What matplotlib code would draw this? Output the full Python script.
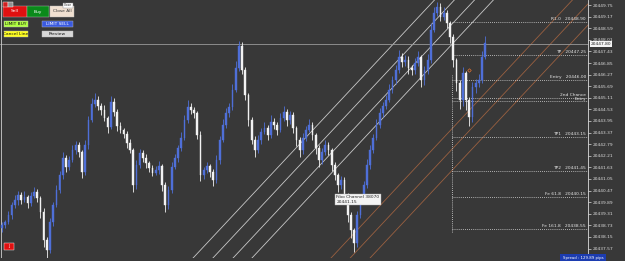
import matplotlib
matplotlib.use("Agg")
import matplotlib.pyplot as plt
from matplotlib.patches import Rectangle
import numpy as np

# ---------------- data ----------------
closes = [
 20438.75, 20438.90, 20439.25, 20439.75, 20440.00, 20440.25, 20440.00, 20440.15, 20439.85, 20440.20,
 20440.40, 20440.10, 20439.40, 20438.00, 20437.50, 20438.90, 20439.75, 20440.50, 20441.25, 20442.10,
 20441.65, 20442.00, 20442.50, 20442.75, 20442.40, 20441.40, 20442.75, 20444.00, 20444.80, 20445.00,
 20444.70, 20444.50, 20444.10, 20443.65, 20444.90, 20444.40, 20443.70, 20443.50, 20443.30, 20442.85,
 20442.50, 20440.75, 20441.75, 20442.35, 20442.10, 20441.85, 20441.60, 20441.35, 20441.50, 20441.70,
 20440.75, 20439.75, 20440.50, 20441.65, 20442.10, 20442.60, 20443.10, 20444.00, 20444.65, 20444.50,
 20444.35, 20443.25, 20441.25, 20441.50, 20441.70, 20441.40, 20441.00, 20442.00, 20443.00, 20443.75,
 20444.35, 20444.65, 20445.50, 20446.60, 20447.70, 20446.50, 20445.25, 20444.00, 20443.00, 20442.50,
 20443.00, 20443.40, 20443.60, 20443.25, 20443.90, 20443.75, 20443.50, 20444.10, 20444.40, 20444.00,
 20444.25, 20443.60, 20443.00, 20442.50, 20443.10, 20443.50, 20443.75, 20443.25, 20442.60, 20442.00,
 20442.40, 20442.75, 20442.50, 20441.75, 20441.25, 20440.75, 20441.00, 20440.25, 20439.25, 20438.50,
 20437.85, 20439.25, 20440.00, 20440.75, 20441.75, 20442.50, 20443.10, 20443.75, 20444.35, 20444.70,
 20445.00, 20445.50, 20446.00, 20446.50, 20447.15, 20446.90, 20447.00, 20446.60, 20446.50, 20446.85,
 20447.15, 20446.00, 20446.50, 20447.00, 20448.50, 20449.35, 20449.65, 20449.15, 20449.35, 20448.85,
 20448.15, 20447.00, 20445.85, 20445.00, 20446.35, 20445.00, 20444.15, 20445.65, 20445.85, 20446.00,
 20447.15, 20447.85,
]
first_open = 20438.60
upper_wick = [
 .15,.10,.20,.15,.25,.20,.15,.30,.10,.20, .25,.15,.10,.20,.15,.20,.15,.25,.20,.30,
 .15,.20,.25,.20,.15,.10,.25,.20,.30,.35, .20,.15,.25,.10,.30,.20,.15,.20,.10,.15,
 .20,.10,.25,.20,.15,.20,.10,.15,.20,.25, .10,.15,.20,.25,.20,.15,.30,.25,.35,.20,
 .15,.10,.20,.15,.20,.10,.15,.25,.20,.30, .25,.20,.30,.35,.25,.20,.15,.10,.15,.20,
 .25,.20,.30,.15,.35,.20,.15,.25,.30,.15, .20,.15,.10,.15,.25,.20,.30,.15,.10,.15,
 .20,.25,.15,.10,.15,.10,.20,.15,.10,.15, .10,.20,.25,.20,.30,.25,.20,.30,.25,.20,
 .25,.30,.20,.25,.35,.20,.25,.20,.15,.25, .30,.10,.20,.30,.35,.30,.25,.20,.30,.15,
 .10,.15,.10,.15,.30,.10,.15,.25,.20,.30, .30,.35,
]
lower_wick = [
 .20,.15,.10,.20,.15,.25,.20,.10,.25,.15, .10,.20,.30,.35,.40,.15,.20,.10,.15,.20,
 .25,.15,.10,.20,.25,.30,.15,.20,.10,.15, .20,.25,.15,.30,.10,.20,.25,.15,.20,.25,
 .15,.35,.20,.15,.20,.25,.20,.15,.10,.20, .30,.35,.20,.15,.10,.20,.15,.10,.15,.20,
 .25,.20,.30,.20,.15,.25,.30,.15,.20,.10, .15,.20,.15,.10,.15,.20,.25,.30,.20,.35,
 .15,.20,.10,.25,.15,.20,.25,.10,.15,.30, .20,.25,.30,.35,.20,.15,.10,.25,.30,.35,
 .20,.15,.25,.30,.25,.35,.20,.30,.35,.40, .45,.20,.15,.20,.15,.20,.15,.10,.15,.20,
 .15,.10,.15,.20,.15,.25,.20,.30,.25,.20, .15,.35,.25,.20,.15,.10,.15,.20,.15,.25,
 .30,.35,.40,.45,.30,.50,.45,.25,.30,.20, .15,.10,
]

# price levels of the trade tool (right side)
level_names = ["R1.0", "TP", "Entry", "2nd Chance", "Entry", "TP1", "TP2", "Fe 61.8", "Fe 161.8"]
level_prices = [20448.90, 20447.25, 20446.00, 20445.10, 20444.95, 20443.15, 20441.45, 20440.15, 20438.55]
current_price = 20447.80

# fibo channel lines: candle index where each line crosses the base price, and slope per candle
white_chan_idx = [59.7, 65.9, 72.2, 78.1]
brown_chan_idx = [102.8, 108.8, 115.0]
chan_base_price = 20437.10
chan_slope = 0.171

tick_top = 20449.75
tick_step = 0.58
n_ticks = 22

# ---------------- figure ----------------
W, H = 625, 261
BG = "#383838"
fig = plt.figure(figsize=(W / 100, H / 100), dpi=100, facecolor=BG)
ax = fig.add_axes([0, 3 / H, 588 / W, 258 / H], facecolor=BG)

n = len(closes)
idx = np.arange(n)
closes_a = np.array(closes)
opens = np.concatenate([[first_open], closes_a[:-1]])
highs = np.maximum(opens, closes_a) + np.array(upper_wick)
lows = np.minimum(opens, closes_a) - np.array(lower_wick)

ymin, ymax = 20437.10, 20450.00
x_left, x_right = -0.625, 183.1
ax.set_xlim(x_left, x_right)
ax.set_ylim(ymin, ymax)

up = closes_a >= opens
col_up = "#4f6fd8"
col_dn = "#f2f2f2"
colors = np.where(up, col_up, col_dn)

# channel lines
for c in white_chan_idx:
    xs = np.array([c, c + (ymax - chan_base_price) / chan_slope])
    ax.plot(xs, chan_base_price + (xs - c) * chan_slope, color="#c9c9c9", lw=0.6, zorder=1)
for c in brown_chan_idx:
    xs = np.array([c, c + (ymax - chan_base_price) / chan_slope])
    ax.plot(xs, chan_base_price + (xs - c) * chan_slope, color="#9a6040", lw=0.6, zorder=1)

# current price line
ax.axhline(current_price, color="#9a9a9a", lw=0.6, zorder=1)

# candles
ax.vlines(idx, lows, highs, colors=colors, lw=0.6, zorder=3)
body_h = np.maximum(np.abs(closes_a - opens), 0.03)
ax.bar(idx, body_h, bottom=np.minimum(opens, closes_a), width=0.55,
       color=colors, edgecolor=colors, linewidth=0.3, zorder=4)

# level lines + labels
lvl_x0 = 140.6
ax.vlines(lvl_x0, 20438.40, 20446.25, colors="#dddddd", linestyles=(0, (1, 1.5)), lw=0.6, zorder=2)
for name, p in zip(level_names, level_prices):
    ax.hlines(p, lvl_x0, x_right, colors="#d8d8d8", linestyles=(0, (1, 1.5)), lw=0.6, zorder=2)
for name, p in zip(level_names, level_prices):
    if name == "2nd Chance":
        ax.text(182.5, p + 0.03, name, color="#e6e6e6", fontsize=3.2, ha="right", va="bottom", zorder=5)
    elif name == "Entry" and p < 20445.0:
        ax.text(182.5, p + 0.02, name, color="#e6e6e6", fontsize=3.2, ha="right", va="bottom", zorder=5)
    else:
        ax.text(182.5, p + 0.03, f"{name}   {p:.2f}", color="#e6e6e6", fontsize=3.2,
                ha="right", va="bottom", zorder=5)

# fibo channel tag
ax.text(104.5, 20440.25, "Fibo Channel 38070\n20441.15", fontsize=3.2, color="#222222",
        ha="left", va="top", linespacing=1.2, zorder=6,
        bbox=dict(boxstyle="square,pad=0.25", fc="#f4f4f4", ec="#aaaaaa", lw=0.3))

# small markers
ax.plot([146], [20446.50], marker="D", ms=1.8, mfc="none", mec="#e07030", mew=0.5, zorder=6)

# axes style
for s in ["top", "bottom", "left"]:
    ax.spines[s].set_visible(False)
ax.spines["right"].set_color("#dcdcdc")
ax.spines["right"].set_linewidth(0.6)
ax.axvline(x_left + 0.35, color="#cfcfcf", lw=0.6)
ax.set_xticks([])
ax.yaxis.tick_right()
ticks = [tick_top - k * tick_step for k in range(n_ticks)]
ax.set_yticks(ticks)
ax.set_yticklabels([f"{t:.2f}" for t in ticks])
ax.tick_params(axis="y", colors="#dcdcdc", labelsize=3.2, length=2, width=0.5, pad=1.5)

# current price tag on axis
ax.text(1.005, (current_price - ymin) / (ymax - ymin), f"{current_price:.2f}",
        transform=ax.transAxes, fontsize=3.2, color="#222222", ha="left", va="center",
        zorder=7, clip_on=False,
        bbox=dict(boxstyle="square,pad=0.2", fc="#f4f4f4", ec="none"))

# ---------------- overlay UI (pixel coords) ----------------
ov = fig.add_axes([0, 0, 1, 1], facecolor="none")
ov.set_xlim(0, W)
ov.set_ylim(H, 0)
ov.axis("off")

def button(x0, y0, x1, y1, fc, label, tc="#111111"):
    ov.add_patch(Rectangle((x0, y0), x1 - x0, y1 - y0, fc=fc, ec="#bbbbbb", lw=0.3))
    ov.text((x0 + x1) / 2, (y0 + y1) / 2, label, fontsize=3.2, color=tc, ha="center", va="center")

button(3, 6, 27, 17, "#e01010", "Sell", "#ffffff")
button(27, 6, 49, 17, "#0a8a1a", "Buy", "#ffffff")
button(50, 6, 74, 17, "#f0e0d0", "Close All", "#333333")
ov.add_patch(Rectangle((63, 3), 10, 5, fc="#ffffff", ec="#888888", lw=0.3))
ov.text(68, 5.5, "Close", fontsize=2.2, color="#222222", ha="center", va="center")
button(4, 21, 28, 27, "#b0ff40", "LIMIT BUY")
button(42, 21, 73, 27, "#3a5ae0", "LIMIT SELL", "#ffffff")
button(4, 31, 28, 37, "#ffff20", "Cancel Line")
button(42, 31, 73, 37, "#d8d8d8", "Preview")
ov.add_patch(Rectangle((3, 2), 5, 5, fc="#d02020", ec="#ffffff", lw=0.3))
ov.add_patch(Rectangle((8, 2), 5, 5, fc="#909090", ec="#ffffff", lw=0.3))

# red tag bottom left
ov.add_patch(Rectangle((4, 243), 10, 7, fc="#e01010", ec="#ffffff", lw=0.3))
ov.text(9, 246.5, "JJ", fontsize=2.6, color="#ffffff", ha="center", va="center")

# spread box
ov.add_patch(Rectangle((560, 254), 46, 7, fc="#1c3cb0", ec="none"))
ov.text(583, 257.5, "Spread : 129.89 pips", fontsize=2.8, color="#ffffff", ha="center", va="center")

fig.savefig("out.png", dpi=100, facecolor=BG)
